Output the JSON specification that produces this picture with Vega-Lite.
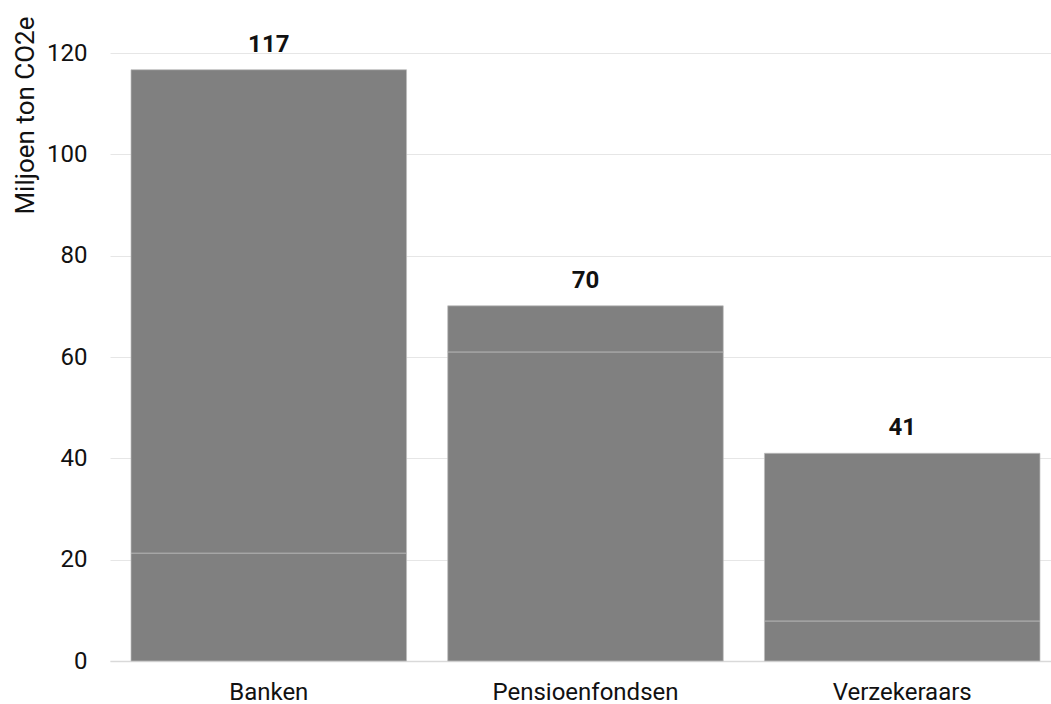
{
  "$schema": "https://vega.github.io/schema/vega-lite/v6.json",
  "autosize": {"type": "none"},
  "padding": {"left": 110, "top": 53, "right": 0, "bottom": 43},
  "width": 941,
  "height": 608,
  "background": "white",
  "config": {
    "view": {"stroke": null},
    "font": "Roboto",
    "axis": {"labelFont": "Roboto", "titleFont": "Roboto", "labelColor": "#111111", "titleColor": "#111111"}
  },
  "data": {
    "values": [
      {"sector": "Banken", "deel": "a", "waarde": 21.3},
      {"sector": "Banken", "deel": "b", "waarde": 95.4},
      {"sector": "Pensioenfondsen", "deel": "a", "waarde": 61.0},
      {"sector": "Pensioenfondsen", "deel": "b", "waarde": 9.1},
      {"sector": "Verzekeraars", "deel": "a", "waarde": 7.9},
      {"sector": "Verzekeraars", "deel": "b", "waarde": 33.1}
    ]
  },
  "encoding": {
    "x": {
      "field": "sector",
      "type": "nominal",
      "sort": null,
      "scale": {"paddingInner": 0.13, "paddingOuter": 0.0505, "align": 0.656},
      "axis": {
        "title": null,
        "labelAngle": 0,
        "labelFontSize": 24,
        "labelPadding": 19,
        "labelLimit": 0,
        "ticks": false,
        "domainColor": "#d9d9d9",
        "domainWidth": 1.5
      }
    }
  },
  "layer": [
    {
      "mark": {"type": "bar", "color": "#808080", "stroke": "#bdbdbd", "strokeWidth": 0.7},
      "encoding": {
        "y": {
          "field": "waarde",
          "type": "quantitative",
          "aggregate": "sum",
          "stack": "zero",
          "scale": {"domain": [0, 120], "nice": false},
          "axis": {
            "title": "Miljoen ton CO2e",
            "titleFontSize": 26,
            "titleFontWeight": "normal",
            "titleAngle": -90,
            "titleAlign": "right",
            "titleBaseline": "alphabetic",
            "titleX": -77,
            "titleY": -37,
            "labelFontSize": 24,
            "labelPadding": 23,
            "ticks": false,
            "domain": false,
            "values": [0, 20, 40, 60, 80, 100, 120],
            "gridColor": "#e6e6e6",
            "gridWidth": 1
          }
        },
        "detail": {"field": "deel"},
        "order": {"field": "deel"}
      }
    },
    {
      "mark": {"type": "text", "fontSize": 24, "fontWeight": "bold", "dy": -18, "baseline": "alphabetic", "color": "#111111"},
      "encoding": {
        "y": {"field": "waarde", "type": "quantitative", "aggregate": "sum"},
        "text": {"field": "waarde", "aggregate": "sum", "type": "quantitative", "format": ".0f"}
      }
    }
  ]
}
